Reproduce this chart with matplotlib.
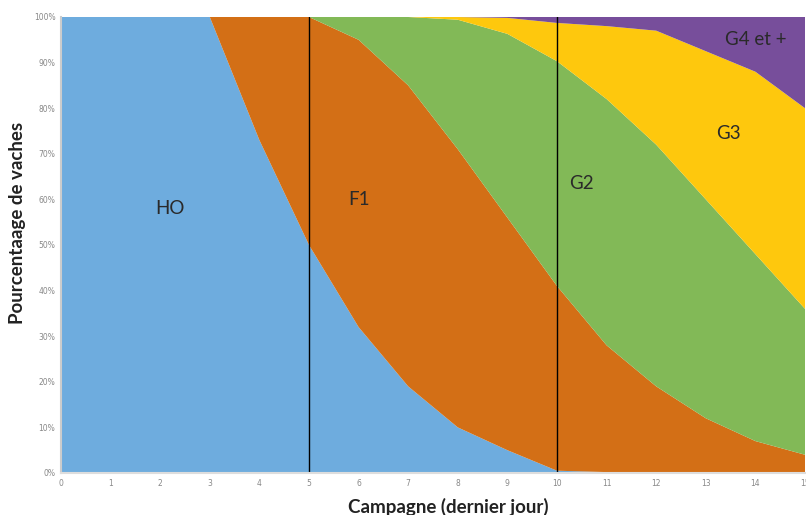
import matplotlib
matplotlib.use("Agg")
import matplotlib.pyplot as plt
import numpy as np

# campagne (dernier jour)
campagnes = list(range(16))

# parts cumulees (%)
ho = [100, 100, 100, 100, 73, 50, 32, 19, 10, 5, 0.5, 0.2, 0, 0, 0, 0]
cum_f1 = [100, 100, 100, 100, 100, 100, 95, 85, 71, 56, 41, 28, 19, 12, 7, 4]
cum_g2 = [100, 100, 100, 100, 100, 100, 100, 100, 99.4, 96.3, 90.3, 82, 72, 60, 48, 36]
cum_g3 = [100, 100, 100, 100, 100, 100, 100, 100, 100, 99.8, 98.7, 98, 97, 92.5, 88, 80]

f1 = np.array(cum_f1) - np.array(ho)
g2 = np.array(cum_g2) - np.array(cum_f1)
g3 = np.array(cum_g3) - np.array(cum_g2)
g4 = 100 - np.array(cum_g3)

couleurs = ['#6EACDE', '#D36F16', '#82B957', '#FEC80D', '#774E9B']
noms = ['HO', 'F1', 'G2', 'G3', 'G4 et +']

fig = plt.figure(figsize=(8.06, 5.15), dpi=100)
ax = fig.add_axes([61/806, 42/515, 744/806, 456/515])

ax.stackplot(campagnes, ho, f1, g2, g3, g4, colors=couleurs, linewidth=0)

# lignes verticales
for xv in [5, 10]:
    ax.plot([xv, xv], [0, 100], color='black', linewidth=1)

# etiquettes des zones
pos = [(2.2, 58), (6.0, 60), (10.5, 63.5), (13.45, 74.5), (14.0, 95)]
for nom, (xt, yt) in zip(noms, pos):
    ax.text(xt, yt, nom, fontsize=13.5, color='#2a2a2a', ha='center', va='center',
            family='Lato')

ax.set_xlim(0, 15)
ax.set_ylim(0, 100)
ax.set_xticks(campagnes)
ax.set_yticks(range(0, 101, 10))
ax.set_yticklabels([str(v) + '%' for v in range(0, 101, 10)])
ax.tick_params(length=0, labelsize=5.5, labelcolor='#888888', pad=4)
for s in ['top', 'right']:
    ax.spines[s].set_visible(False)
ax.spines['left'].set_color('#cccccc')
ax.spines['bottom'].set_color('#dddddd')
ax.spines['left'].set_linewidth(1.5)
ax.spines['bottom'].set_linewidth(1.5)

fig.text(448/806, 1 - 507/515, 'Campagne (dernier jour)', fontsize=13.5, fontweight='bold',
         ha='center', va='center', family='Lato', color='#222222')
fig.text(18/806, 1 - 223/515, 'Pourcentaage de vaches', fontsize=13.5, fontweight='bold',
         ha='center', va='center', rotation=90, family='Lato', color='#222222')

fig.savefig('out.png', dpi=100)
